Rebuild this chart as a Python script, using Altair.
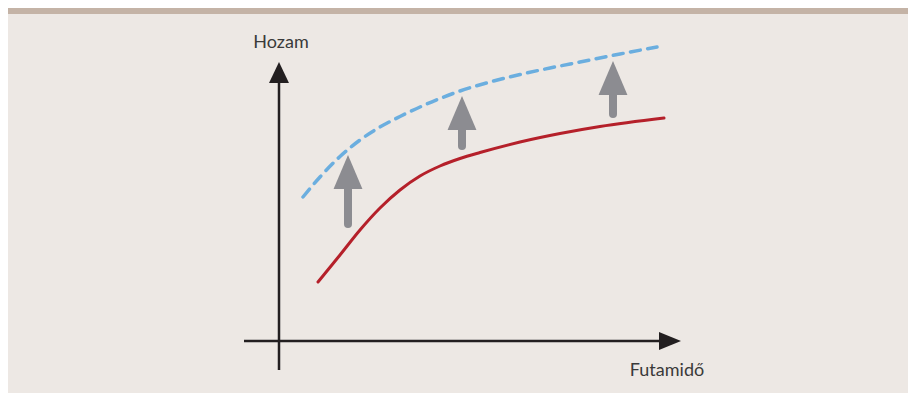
import altair as alt
import pandas as pd

# ---- data (page-pixel coordinate system of the diagram) ----
red_x = [318, 340, 360, 380, 400, 420, 440, 460, 480, 520, 560, 600, 664]
red_y = [282, 255, 230, 208, 190, 176, 166, 158.5, 152.5, 142, 133.5, 126.5, 118]

blue_x = [303, 320, 340, 360, 380, 400, 420, 440, 460, 490, 520, 550, 580, 620, 657]
blue_y = [197, 177, 156.5, 140, 127, 116.5, 107, 98.5, 91, 82, 74.5, 68, 62, 54, 47]

arrow_x = [348, 462, 613]
arrow_bottom = [228, 150, 118]
arrow_tip = [155, 96, 61]

axis_origin_x = 279
axis_origin_y = 341
yaxis_bottom = 370
yaxis_tip = 62
xaxis_left = 244
xaxis_tip = 681

labels = ["Hozam", "Futamidő"]
label_x = [281, 667]
label_y = [48, 376]

# ---- layout / style ----
W, H = 900, 385
X0, Y0 = 8, 8
BG = "#EDE8E4"
BAND = "#C4B3A6"
AXIS = "#231F20"
RED = "#B5202A"
BLUE = "#6BAEDF"
GREY = "#8C8C91"
HEAD_LEN = 34
AX_HEAD_Y = 21
AX_HEAD_X = 22

xs = alt.Scale(domain=[X0, X0 + W], nice=False, zero=False)
ys = alt.Scale(domain=[Y0, Y0 + H], nice=False, zero=False, reverse=True)


def X(f):
    return alt.X(f, type="quantitative", scale=xs, axis=None)


def Y(f):
    return alt.Y(f, type="quantitative", scale=ys, axis=None)


band_df = pd.DataFrame({"x": [X0], "x2": [X0 + W], "y": [Y0], "y2": [Y0 + 6]})
band = alt.Chart(band_df).mark_rect(color=BAND).encode(
    x=X("x"), x2="x2", y=Y("y"), y2="y2"
)

axes_df = pd.DataFrame({
    "x": [axis_origin_x, xaxis_left],
    "x2": [axis_origin_x, xaxis_tip - AX_HEAD_X + 2],
    "y": [yaxis_bottom, axis_origin_y],
    "y2": [yaxis_tip + AX_HEAD_Y - 2, axis_origin_y],
})
axes = alt.Chart(axes_df).mark_rule(color=AXIS, strokeWidth=2.5).encode(
    x=X("x"), x2="x2", y=Y("y"), y2="y2"
)

yhead_df = pd.DataFrame({"x": [axis_origin_x], "y": [yaxis_tip + AX_HEAD_Y / 2]})
yhead = alt.Chart(yhead_df).mark_point(
    shape="M-0.95,1L0,-1L0.95,1Z", filled=True, opacity=1, color=AXIS,
    size=AX_HEAD_Y ** 2, strokeWidth=0
).encode(x=X("x"), y=Y("y"))

xhead_df = pd.DataFrame({"x": [xaxis_tip - AX_HEAD_X / 2], "y": [axis_origin_y]})
xhead = alt.Chart(xhead_df).mark_point(
    shape="M-1,-0.82L1,0L-1,0.82Z", filled=True, opacity=1, color=AXIS,
    size=AX_HEAD_X ** 2, strokeWidth=0
).encode(x=X("x"), y=Y("y"))

arr_df = pd.DataFrame({
    "x": arrow_x,
    "bottom": [b - 4 for b in arrow_bottom],
    "top": [t + HEAD_LEN - 2 for t in arrow_tip],
    "head": [t + HEAD_LEN / 2 for t in arrow_tip],
})
shafts = alt.Chart(arr_df).mark_rule(
    color=GREY, strokeWidth=8, strokeCap="round"
).encode(x=X("x"), y=Y("bottom"), y2="top")
heads = alt.Chart(arr_df).mark_point(
    shape="M-0.85,1L0,-1L0.85,1Z", filled=True, opacity=1, color=GREY,
    size=HEAD_LEN ** 2, strokeWidth=0
).encode(x=X("x"), y=Y("head"))

red_df = pd.DataFrame({"x": red_x, "y": red_y})
red = alt.Chart(red_df).mark_line(
    color=RED, strokeWidth=3, interpolate="monotone", strokeCap="round"
).encode(x=X("x"), y=Y("y"))

blue_df = pd.DataFrame({"x": blue_x, "y": blue_y})
blue = alt.Chart(blue_df).mark_line(
    color=BLUE, strokeWidth=3.5, interpolate="monotone", strokeCap="round",
    strokeDash=[10, 7.5]
).encode(x=X("x"), y=Y("y"))

lab_df = pd.DataFrame({"t": labels, "x": label_x, "y": label_y})
text = alt.Chart(lab_df).mark_text(
    font="Lato", fontSize=18, color="#3A3A3A", align="center",
    baseline="alphabetic"
).encode(x=X("x"), y=Y("y"), text="t:N")

chart = alt.layer(
    band, axes, yhead, xhead, shafts, heads, red, blue, text
).properties(
    width=W, height=H,
    autosize=alt.AutoSizeParams(type="fit", contains="padding"),
    padding=0,
    background=BG,
).configure_view(stroke=None)

chart.save("out.html", embed_options={"renderer": "svg", "actions": False})
